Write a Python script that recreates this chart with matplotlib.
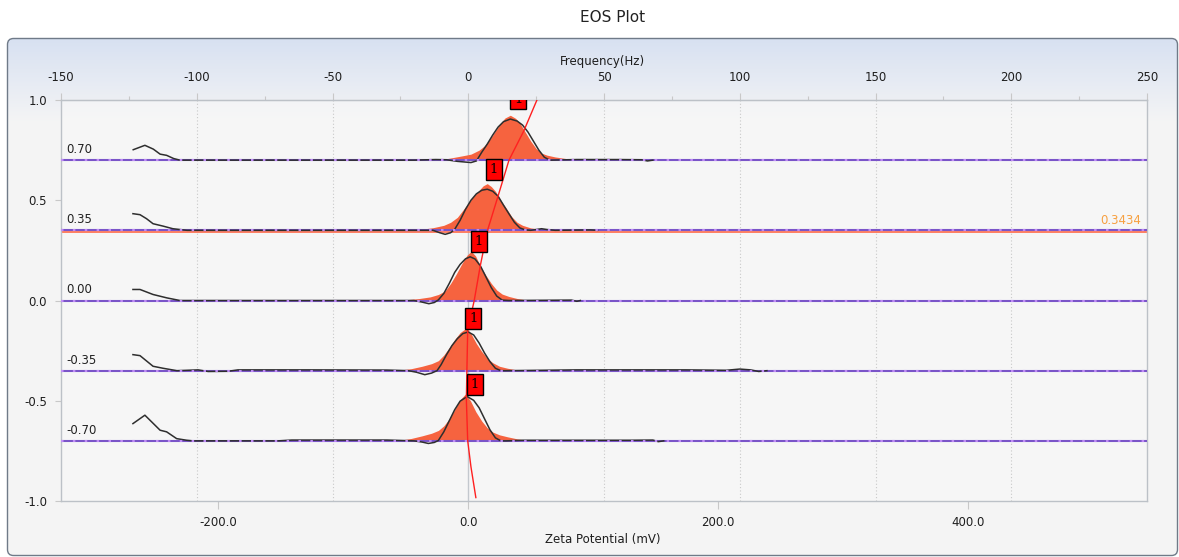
import numpy as np
import matplotlib
matplotlib.use("Agg")
import matplotlib.pyplot as plt
from matplotlib.patches import FancyBboxPatch

plt.rcParams['axes.unicode_minus'] = False
plt.rcParams['font.family'] = ['DejaVu Sans']

# ---------------- data ----------------
baselines = [0.70, 0.35, 0.00, -0.35, -0.70]
baseline_labels = ["0.70", "0.35", "0.00", "-0.35", "-0.70"]
reference_level = 0.3434

# filled (fitted) distributions: frequency (Hz), height above baseline
fill_f_070 = [-11, -6, -2, 1, 4, 6, 8, 10, 12, 13.5, 15.5, 17.5, 19, 21, 23, 25, 27, 29, 32, 36, 41]
fill_h_070 = [0.0, 0.012, 0.022, 0.030, 0.050, 0.072, 0.105, 0.145, 0.185, 0.210, 0.224, 0.208, 0.185,
              0.140, 0.095, 0.058, 0.035, 0.025, 0.016, 0.008, 0.0]
fill_f_035 = [-22, -17, -13, -9, -6.5, -4, -2, 0, 2, 4, 5.5, 7, 8.5, 10, 12, 14, 16, 18, 20, 23, 27, 31]
fill_h_035 = [0.0, 0.006, 0.013, 0.025, 0.040, 0.065, 0.100, 0.135, 0.170, 0.200, 0.222, 0.233, 0.218,
              0.195, 0.150, 0.110, 0.068, 0.040, 0.025, 0.012, 0.005, 0.0]
fill_f_000 = [-26, -22, -18, -14, -11, -8.5, -6.5, -4.5, -2.5, -0.5, 1.1, 2.7, 4.5, 6.5, 8.5, 10.5, 12.5,
              15, 18, 21, 24]
fill_h_000 = [0.0, 0.005, 0.010, 0.018, 0.030, 0.048, 0.085, 0.130, 0.180, 0.225, 0.246, 0.222, 0.170,
              0.125, 0.085, 0.052, 0.032, 0.020, 0.010, 0.004, 0.0]
fill_f_m035 = [-29, -25, -21, -17, -13.5, -11, -9, -7, -5, -3, -0.7, 1, 3, 5, 7, 9, 11.5, 14.5, 17.5, 20.5]
fill_h_m035 = [0.0, 0.004, 0.010, 0.022, 0.035, 0.050, 0.078, 0.115, 0.155, 0.190, 0.213, 0.185, 0.135,
               0.095, 0.062, 0.040, 0.022, 0.012, 0.005, 0.0]
fill_f_m070 = [-29, -25, -21, -17, -13.5, -11, -9, -7, -5, -3, -1.1, 0.8, 2.8, 5, 7, 9, 11.5, 14.5, 18, 23]
fill_h_m070 = [0.0, 0.004, 0.012, 0.025, 0.038, 0.052, 0.075, 0.110, 0.155, 0.205, 0.233, 0.200, 0.145,
               0.098, 0.065, 0.044, 0.030, 0.020, 0.010, 0.0]

# measured spectra (black): frequency (Hz), height above baseline
spec_f_070 = [-123.4, -119.1, -116, -113.5, -111.1, -108.5, -106.2, -40, -20, -12, -8, -4, 1, 3, 5, 7, 9,
              11, 13, 15.5, 18, 20, 22, 24, 26, 28, 30, 40, 55, 64, 66, 68]
spec_h_070 = [0.052, 0.074, 0.055, 0.030, 0.024, 0.008, 0.0, 0.0, 0.0, 0.003, 0.002, -0.006, -0.012,
              -0.004, 0.040, 0.080, 0.125, 0.165, 0.192, 0.205, 0.195, 0.175, 0.140, 0.095, 0.050, 0.015,
              0.0, 0.003, 0.003, 0.002, -0.004, 0.0]
spec_f_035 = [-123.5, -120.9, -118.5, -116.1, -112.4, -108.8, -103.6, -40, -13, -10.5, -8.5, -6.5, -5, -3,
              -1, 1, 3, 5, 7, 9, 11, 13, 15, 17, 19, 21, 23, 25, 27, 29, 32, 45, 47.6]
spec_h_035 = [0.083, 0.078, 0.058, 0.033, 0.021, 0.008, 0.0, 0.0, 0.0, -0.012, -0.020, -0.012, 0.005,
              0.050, 0.105, 0.150, 0.182, 0.200, 0.205, 0.195, 0.170, 0.125, 0.082, 0.040, 0.012, 0.002,
              0.0, 0.004, 0.008, 0.004, 0.0, 0.002, 0.0]
spec_f_000 = [-123.5, -120.9, -116.1, -111.0, -106.2, -40, -20, -17, -14.5, -12.5, -11, -9, -7, -5, -3,
              -1, 0.7, 2.5, 4.5, 6.5, 8.5, 10.5, 12.5, 15, 38, 40, 41.3]
spec_h_000 = [0.055, 0.055, 0.030, 0.013, 0.0, 0.0, 0.0, -0.008, -0.016, -0.010, 0.003, 0.035, 0.085,
              0.140, 0.180, 0.208, 0.218, 0.207, 0.172, 0.118, 0.064, 0.022, 0.002, 0.0, 0.002, -0.004, 0.0]
spec_f_m035 = [-123.5, -120.9, -116.1, -112.4, -107.3, -99.5, -95.8, -88.5, -84.8, -60, -30, -22, -19,
               -16, -13.5, -11.5, -10, -8, -6, -4, -2, 0, 2, 4, 6, 8, 10, 12, 14, 40, 80, 95, 100, 104,
               107, 110]
spec_h_m035 = [0.080, 0.075, 0.022, 0.012, 0.0, 0.004, -0.004, -0.003, 0.004, 0.004, 0.003, 0.0, -0.008,
               -0.020, -0.012, 0.0, 0.030, 0.080, 0.125, 0.160, 0.185, 0.193, 0.178, 0.138, 0.088, 0.045,
               0.012, 0.0, 0.0, 0.004, 0.004, 0.002, 0.008, 0.004, -0.004, 0.0]
spec_f_m070 = [-123.5, -119.1, -113.5, -111.1, -107.4, -103.7, -101.4, -70, -65, -30, -20, -17, -14.7,
               -12.5, -11, -9, -7, -5, -3, -0.4, 2, 4, 6, 8, 10, 12, 14, 20, 60, 68, 70, 72]
spec_h_m070 = [0.086, 0.128, 0.053, 0.045, 0.011, 0.003, 0.0, 0.0, 0.004, 0.004, 0.0, -0.006, -0.013,
               -0.008, 0.002, 0.045, 0.100, 0.155, 0.198, 0.221, 0.202, 0.165, 0.110, 0.055, 0.015, 0.0,
               0.0, 0.003, 0.003, 0.004, -0.004, 0.0]

# peak-position fit line (red): frequency (Hz) vs level
fit_y = [1.0, 0.844, 0.70, 0.504, 0.35, 0.171, 0.0, -0.145, -0.35, -0.494, -0.70, -0.83, -0.983]
fit_f = [25.3, 20.4, 15.0, 10.6, 7.1, 4.4, 2.2, -0.2, -0.5, -0.7, -0.2, 1.0, 2.8]

# peak markers
marker_f = [18.4, 9.4, 3.9, 1.8, 2.4]
marker_y = [0.953, 0.603, 0.244, -0.140, -0.469]
marker_text = ["1", "1", "1", "1", "1"]

freq_ticks = [-150, -100, -50, 0, 50, 100, 150, 200, 250]
freq_minor = [-125, -75, -25, 25, 75, 125, 175, 225]
grid_freqs = [-100, -50, 50, 100, 150, 200]
zeta_ticks = [-200.0, 0.0, 200.0, 400.0]
zeta_labels = ["-200.0", "0.0", "200.0", "400.0"]
y_ticks = [-1.0, -0.5, 0.0, 0.5, 1.0]
y_labels = ["-1.0", "-0.5", "0.0", "0.5", "1.0"]
MV_PER_HZ = 2.172

fills_f = [fill_f_070, fill_f_035, fill_f_000, fill_f_m035, fill_f_m070]
fills_h = [fill_h_070, fill_h_035, fill_h_000, fill_h_m035, fill_h_m070]
specs_f = [spec_f_070, spec_f_035, spec_f_000, spec_f_m035, spec_f_m070]
specs_h = [spec_h_070, spec_h_035, spec_h_000, spec_h_m035, spec_h_m070]

# ---------------- figure ----------------
W, H = 1179, 557
fig = plt.figure(figsize=(W / 100, H / 100), dpi=100)
fig.patch.set_facecolor('white')

# background panel with gradient
bg = fig.add_axes([0, 0, 1, 1])
bg.set_xlim(0, W)
bg.set_ylim(H, 0)
bg.axis('off')
top_c = np.array([0.845, 0.882, 0.948])
bot_c = np.array([0.960, 0.960, 0.960])
rows = np.arange(38, 556)
t = np.clip((rows - 38) / 85.0, 0, 1)[:, None]
img = (top_c * (1 - t) + bot_c * t)[:, None, :]
im = bg.imshow(img, extent=[7.5, 1177.5, 555.5, 38.5], aspect='auto', interpolation='bilinear', zorder=0)
panel = FancyBboxPatch((7.5, 38.5), 1170, 517, boxstyle='round,pad=0,rounding_size=6',
                       fc='none', ec='#6f7a88', lw=1.0, zorder=1)
bg.add_patch(panel)
im.set_clip_path(panel)

def fx(px):
    return px / W

def fy(py):
    return 1 - py / H

ax = fig.add_axes([fx(61), fy(501), (1147 - 61) / W, (501 - 100) / H])
ax.set_facecolor((0.975, 0.975, 0.975, 0.55))
ax.set_xlim(-150, 250)
ax.set_ylim(-1, 1)
for s in ax.spines.values():
    s.set_color('#bcc1c7')
    s.set_linewidth(1.0)

# grid
for g in grid_freqs:
    ax.axvline(g, color='#c9c9c9', lw=0.8, ls=(0, (1, 2)), zorder=1)
ax.axvline(0, color='#c3c8ce', lw=1.0, zorder=1)

# reference level line
ax.axhline(reference_level, color='#ff7556', lw=1.3, zorder=2.5)

for i, base in enumerate(baselines):
    ff = np.array(fills_f[i])
    fh = np.array(fills_h[i])
    ax.fill_between(ff, base, base + fh, color='#f6633f', lw=0, zorder=2)
    ax.plot([-150, 250], [base, base], color='#7a55c8', lw=1.5, zorder=3, solid_capstyle='butt')
    sf = np.array(specs_f[i])
    sh = np.array(specs_h[i])
    ax.plot(sf, base + sh, color='#2e2e2e', lw=1.1, zorder=4)
    ax.plot([-150, 250], [base, base], color='#c08cf6', lw=1.5, dashes=(1.2, 4.5), zorder=5)
    ax.text(-148.2, base + 0.02, baseline_labels[i], fontsize=8.5, color='#222222',
            ha='left', va='bottom', zorder=6)

ax.text(248, reference_level + 0.022, "0.3434", fontsize=8.5, color='#f7a040',
        ha='right', va='bottom', zorder=6)

# fit line
ax.plot(fit_f, fit_y, color='#ff2020', lw=1.0, zorder=6)

# markers
for mf, my, mt in zip(marker_f, marker_y, marker_text):
    ax.annotate(mt, xy=(mf, my), xytext=(0, 2.8), textcoords='offset points', ha='center', va='bottom',
                fontsize=9.5, family='DejaVu Serif', color='black', zorder=7, clip_on=True,
                bbox=dict(boxstyle='square,pad=0.3', fc='#ff0000', ec='black', lw=1.0))

# bottom axis (zeta potential)
ax.set_xticks([z / MV_PER_HZ for z in zeta_ticks])
ax.set_xticklabels(zeta_labels)
ax.tick_params(axis='x', which='major', direction='out', length=6, width=0.8, color='#c8c8c8',
               pad=5, labelsize=8.5, labelcolor='#1e1e1e')
ax.set_yticks(y_ticks)
ax.set_yticklabels(y_labels)
ax.tick_params(axis='y', direction='out', length=4.5, width=0.8, color='#c8c8c8', pad=5.5,
               labelsize=8.5, labelcolor='#1e1e1e')

# top axis (frequency)
sec = ax.secondary_xaxis('top')
sec.set_xticks(freq_ticks)
sec.set_xticklabels([str(v) for v in freq_ticks])
sec.set_xticks(freq_minor, minor=True)
sec.tick_params(axis='x', which='major', direction='out', length=5, width=0.8, color='#c8c8c8',
                pad=6.5, labelsize=8.5, labelcolor='#1e1e1e')
sec.tick_params(axis='x', which='minor', direction='out', length=3, width=0.8, color='#c8c8c8')
sec.spines['top'].set_color('#bcc1c7')

fig.text(fx(613), fy(18), "EOS Plot", fontsize=11, color='#222222', ha='center', va='center')
fig.text(fx(602), fy(62), "Frequency(Hz)", fontsize=8.5, color='#1e1e1e', ha='center', va='center')
fig.text(fx(603), fy(540), "Zeta Potential (mV)", fontsize=8.5, color='#1e1e1e', ha='center', va='center')

fig.savefig("out.png", dpi=100)
